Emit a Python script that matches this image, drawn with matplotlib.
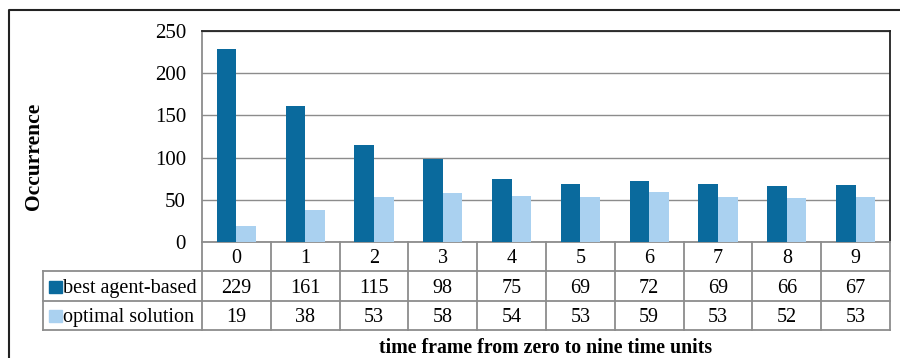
import numpy as np
import matplotlib.pyplot as plt
from matplotlib.lines import Line2D
from matplotlib.patches import Rectangle

plt.rcParams['font.family'] = ['Liberation Serif', 'DejaVu Serif']

frames = ["0", "1", "2", "3", "4", "5", "6", "7", "8", "9"]
series_names = ["best agent-based", "optimal solution"]
best_agent = [229, 161, 115, 98, 75, 69, 72, 69, 66, 67]
optimal = [19, 38, 53, 58, 54, 53, 59, 53, 52, 53]
colors = ["#0A6A9D", "#AAD1F0"]

W, H = 900, 358
fig = plt.figure(figsize=(9, 3.58), dpi=100)

def fx(px):
    return px / W

def fy(py):
    return 1 - py / H

# plot area in pixel coords
L, R, T, B = 202, 890, 31, 242
ax = fig.add_axes([fx(L), fy(B), fx(R) - fx(L), fy(T) - fy(B)])

x = np.arange(len(frames))
bw = 0.285
ax.bar(x - bw / 2, best_agent, bw, color=colors[0], zorder=3)
ax.bar(x + bw / 2, optimal, bw, color=colors[1], zorder=3)
ax.set_xlim(-0.5, len(frames) - 0.5)
ax.set_ylim(0, 250)
ax.set_yticks(range(0, 251, 50))
ax.tick_params(axis='y', length=0, labelsize=15, pad=11.5)
ax.set_xticks([])
ax.grid(axis='y', color='#8c8c8c', linewidth=1, zorder=0)
for s in ['top', 'right']:
    ax.spines[s].set_color('#222222')
    ax.spines[s].set_linewidth(1.3)
for s in ['left', 'bottom']:
    ax.spines[s].set_color('#8c8c8c')
    ax.spines[s].set_linewidth(1.3)

fig.text(fx(34), fy(156), "Occurrence", rotation=90, ha='center', va='center',
         fontsize=15.5, fontweight='bold')

# data table under the chart
grid_c = '#8c8c8c'
cw = (R - L) / len(frames)
rows = [242, 271, 301, 330]
baselines = [263, 293, 322]
tl = 43
fs = 14.5

def hline(y, x0, x1):
    fig.add_artist(Line2D([fx(x0), fx(x1)], [fy(y), fy(y)], color=grid_c, lw=1.3))

def vline(xp, y0, y1):
    fig.add_artist(Line2D([fx(xp), fx(xp)], [fy(y0), fy(y1)], color=grid_c, lw=1.3))

hline(rows[1], tl, R)
hline(rows[2], tl, R)
hline(rows[3], tl, R)
vline(tl, rows[1], rows[3])
for i in range(len(frames) + 1):
    vline(L + i * cw, rows[0], rows[3])

for i, f in enumerate(frames):
    cx = fx(L + (i + 0.5) * cw)
    fig.text(cx, fy(baselines[0]), f, ha='center', va='baseline', fontsize=fs)
    fig.text(cx, fy(baselines[1]), str(best_agent[i]), ha='center', va='baseline', fontsize=fs)
    fig.text(cx, fy(baselines[2]), str(optimal[i]), ha='center', va='baseline', fontsize=fs)

for r, (name, c) in enumerate(zip(series_names, colors)):
    fig.add_artist(Rectangle((fx(49), fy(baselines[r + 1])), fx(12.5), 12.5 / H, color=c))
    fig.text(fx(63), fy(baselines[r + 1]), name, ha='left', va='baseline', fontsize=fs)

fig.text(fx((L + R) / 2), fy(353), "time frame from zero to nine time units",
         ha='center', va='baseline', fontsize=14.3, fontweight='bold')

# outer chart frame
fig.add_artist(Line2D([fx(9), fx(9), fx(900)], [fy(358), fy(10), fy(10)], color='#222222', lw=1.5))

fig.savefig("out.png", dpi=100)
